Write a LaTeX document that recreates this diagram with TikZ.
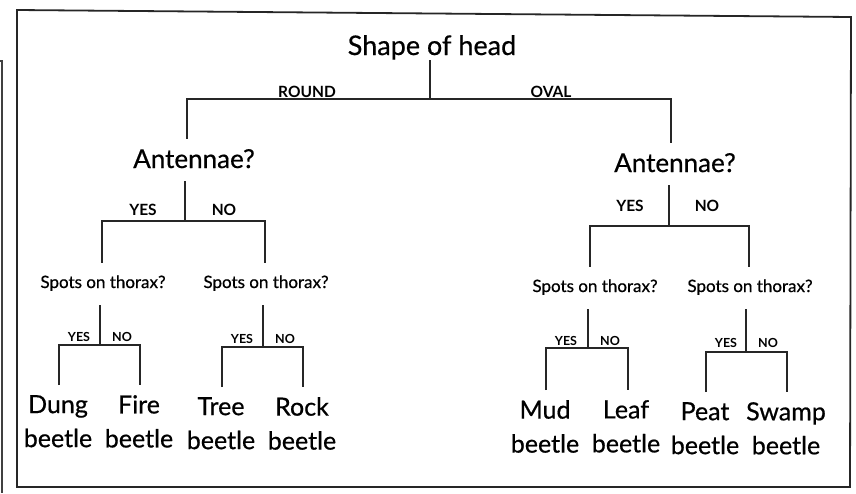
\documentclass[tikz,border=0pt]{standalone}
\usepackage{fontspec}
\setmainfont{Lato}
\newfontfamily\heavyfont{Lato}[FakeBold=0.6]
\begin{document}
\begin{tikzpicture}[x=1pt,y=-1pt,
  conn/.style={line width=1.3pt, black!85},
  frame/.style={line width=1.8pt, black!85},
  q0/.style={font=\heavyfont\fontsize{27}{32}\selectfont, anchor=base, inner xsep=0pt, inner ysep=0pt, text height=19pt, text depth=5pt},
  q1/.style={font=\heavyfont\fontsize{26}{32}\selectfont, anchor=base, inner xsep=0pt, inner ysep=9pt, text height=20pt, text depth=4pt},
  q2/.style={font=\heavyfont\fontsize{17}{20}\selectfont, anchor=base, inner xsep=0pt, inner ysep=8pt, text height=17pt, text depth=9pt},
  leaf/.style={font=\heavyfont\fontsize{25}{34}\selectfont, anchor=north, align=center, inner xsep=0pt, inner ysep=10pt},
  labA/.style={font=\fontsize{15.5}{18}\selectfont\bfseries, anchor=base, inner sep=0pt},
  labB/.style={font=\fontsize{12.5}{15}\selectfont\bfseries, anchor=base, inner sep=0pt}
]
\useasboundingbox (0,0) rectangle (856,493);
\draw[frame] (17,10) -- (851,17) -- (850,487) -- (17,487) -- cycle;
\draw[black!75, line width=1.2pt] (0,61) -- (2,61) -- (2,493);

% question nodes
\node[q0] (top) at (432,55) {Shape of head};
\node[q1] (a1) at (194,168) {Antennae?};
\node[q1] (a2) at (675,172) {Antennae?};
\node[q2] (s1) at (103,288) {Spots on thorax?};
\node[q2] (s2) at (266,288) {Spots on thorax?};
\node[q2] (s3) at (595,292) {Spots on thorax?};
\node[q2] (s4) at (750,292) {Spots on thorax?};

% leaves
\node[leaf] (dung)  at (58,385)  {Dung\\beetle};
\node[leaf] (fire)  at (139,385) {Fire\\beetle};
\node[leaf] (tree)  at (221,387) {Tree\\beetle};
\node[leaf] (rock)  at (302,387) {Rock\\beetle};
\node[leaf] (mud)   at (545,390) {Mud\\beetle};
\node[leaf] (leafb) at (626,390) {Leaf\\beetle};
\node[leaf] (peat)  at (705,392) {Peat\\beetle};
\node[leaf] (swamp) at (786,392) {Swamp\\beetle};

% junctions
\coordinate (j0) at (430,99);
\coordinate (j0L) at (187,99);
\coordinate (j0R) at (671,99);
\coordinate (j1) at (185,221);
\coordinate (j1L) at (102,221);
\coordinate (j1R) at (265,221);
\coordinate (j2) at (669,226);
\coordinate (j2L) at (590,226);
\coordinate (j2R) at (749,226);
\coordinate (k1) at (100,345);
\coordinate (k1L) at (59,345);
\coordinate (k1R) at (140,345);
\coordinate (k2) at (263,347);
\coordinate (k2L) at (222,347);
\coordinate (k2R) at (303,347);
\coordinate (k3) at (588,348);
\coordinate (k3L) at (546,348);
\coordinate (k3R) at (628,348);
\coordinate (k4) at (746,352);
\coordinate (k4L) at (706,352);
\coordinate (k4R) at (787,352);

% connectors
\draw[conn] (top.south -| j0) -- (j0);
\draw[conn] (a1.north -| j0L) -- (j0L) -- (j0R) -- (a2.north -| j0R);

\draw[conn] (a1.south -| j1) -- (j1);
\draw[conn] (s1.north -| j1L) -- (j1L) -- (j1R) -- (s2.north -| j1R);
\draw[conn] (a2.south -| j2) -- (j2);
\draw[conn] (s3.north -| j2L) -- (j2L) -- (j2R) -- (s4.north -| j2R);

\draw[conn] (s1.south -| k1) -- (k1);
\draw[conn] (dung.north -| k1L) -- (k1L) -- (k1R) -- (fire.north -| k1R);
\draw[conn] (s2.south -| k2) -- (k2);
\draw[conn] (tree.north -| k2L) -- (k2L) -- (k2R) -- (rock.north -| k2R);
\draw[conn] (s3.south -| k3) -- (k3);
\draw[conn] (mud.north -| k3L) -- (k3L) -- (k3R) -- (leafb.north -| k3R);
\draw[conn] (s4.south -| k4) -- (k4);
\draw[conn] (peat.north -| k4L) -- (k4L) -- (k4R) -- (swamp.north -| k4R);

% branch labels
\node[labA] (round) at (307,97) {ROUND};
\node[labA] (oval) at (551,97) {OVAL};
\node[labA] (y1) at (143,215) {YES};
\node[labA] (n1) at (224,215) {NO};
\node[labA] (y2) at (630,211) {YES};
\node[labA] (n2) at (707,211) {NO};
\node[labB] (y3) at (79,341) {YES};
\node[labB] (n3) at (122,341) {NO};
\node[labB] (y4) at (242,343) {YES};
\node[labB] (n4) at (285,343) {NO};
\node[labB] (y5) at (566,345) {YES};
\node[labB] (n5) at (610,345) {NO};
\node[labB] (y6) at (726,347) {YES};
\node[labB] (n6) at (768,347) {NO};
\end{tikzpicture}
\end{document}
